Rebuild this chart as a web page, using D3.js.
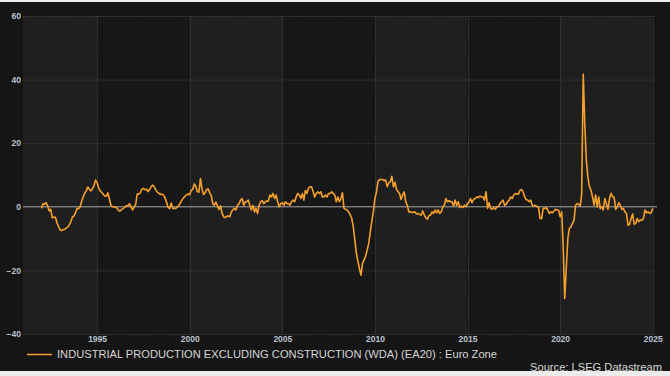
<!DOCTYPE html>
<html>
<head>
<meta charset="utf-8">
<script src="https://cdn.jsdelivr.net/npm/d3@7"></script>
<style>
	body{margin:0;background:#ececec;}
	svg{display:block;}
</style>
</head>
<body>
<script>
// monthly % yoy, Jan 1992 .. Jan 2025
const startYear=1992
const ipYoY=[
	-0.5,1.0,0.8,1.3,0.3,-1.3,-0.8,-3.5,-3.2,-3.3,-5.0,-6.2, //1992
	-7.2,-7.5,-7.2,-7.1,-6.7,-6.4,-5.7,-4.7,-3.2,-2.9,-1.9,-0.5, //1993
	-0.6,0.0,1.7,3.1,4.2,5.0,6.2,5.5,5.0,5.7,6.6,8.4, //1994
	7.6,6.0,5.0,4.5,4.0,3.4,3.3,4.4,2.4,0.5,0.0,0.0, //1995
	-0.2,-0.4,-1.2,-1.3,-0.8,-0.5,-0.2,0.4,0.2,1.0,0.0,-1.0, //1996
	0.0,0.8,4.0,4.0,4.3,5.5,5.8,5.4,5.5,4.8,5.4,6.3, //1997
	6.8,6.3,5.4,4.6,4.3,3.9,4.0,3.7,2.8,1.5,-0.2,-0.6, //1998
	1.2,-0.5,-0.5,-0.5,-0.1,0.4,1.2,2.1,2.8,3.3,3.8,4.0, //1999
	3.8,5.2,5.5,7.2,6.4,4.8,4.6,8.9,5.5,3.9,4.4,5.5, //2000
	5.6,4.3,3.6,1.0,0.5,1.5,0.3,-0.8,0.3,-2.0,-3.2,-3.4, //2001
	-3.0,-2.9,-3.1,-1.6,-1.0,-0.5,-1.0,0.5,1.0,2.1,2.6,0.5, //2002
	1.6,1.6,2.1,0.5,-1.0,0.5,-1.6,-0.5,-2.1,0.5,1.6,1.9, //2003
	1.0,1.6,1.8,1.8,3.7,3.1,4.2,2.6,3.7,1.6,0.0,1.0, //2004
	1.3,0.5,1.6,1.0,1.0,0.5,1.6,2.1,1.6,3.1,4.2,3.7, //2005
	2.6,4.2,2.1,5.2,4.2,5.8,6.3,6.3,4.7,3.1,4.2,4.7, //2006
	4.2,4.7,3.1,3.1,3.7,3.1,4.2,4.2,4.7,4.2,3.7,1.6, //2007
	3.1,1.6,2.6,4.4,-0.5,-0.8,-1.0,-1.6,-2.5,-3.7,-6.3,-10.5, //2008
	-14.7,-17.3,-19.4,-21.5,-17.8,-16.8,-15.5,-13.6,-11.5,-8.0,-4.5,-1.5, //2009
	2.6,4.7,7.9,8.6,8.6,8.6,8.2,8.4,6.3,7.5,7.9,9.6, //2010
	6.3,7.7,5.5,4.8,4.2,2.3,3.7,4.7,1.6,0.5,-1.6,-1.6, //2011
	-1.8,-1.7,-1.6,-2.3,-2.1,-2.4,-2.6,-1.3,-2.6,-3.5,-3.9,-2.8, //2012
	-2.6,-1.6,-2.1,-1.0,-1.9,-1.0,-2.1,-1.6,0.0,0.5,2.6,1.6, //2013
	1.9,1.6,1.6,0.2,2.1,0.5,1.6,-0.2,0.2,-0.2,0.5,0.0, //2014
	1.0,1.6,2.6,1.3,2.3,2.6,3.1,2.9,3.4,3.1,3.1,2.1, //2015
	4.7,-0.5,1.3,-0.5,-0.8,-0.2,-0.8,0.0,0.0,1.0,1.6,2.1, //2016
	0.5,0.8,1.6,2.1,3.1,2.6,3.7,4.2,4.0,4.0,5.2,5.5, //2017
	4.7,3.1,2.3,2.1,1.6,2.1,0.5,0.2,0.5,0.0,0.0,-3.7, //2018
	-3.7,-0.5,-0.5,-0.3,-1.0,-2.1,-1.6,-1.9,-1.3,-0.8,-1.0,-1.0, //2019
	-3.1,-1.6,-12.5,-28.8,-19.5,-10.0,-6.8,-6.3,-5.2,-4.2,0.5,1.0, //2020
	0.8,0.3,4.0,41.7,26.0,14.7,9.4,6.3,5.2,3.0,0.5,3.7, //2021
	0.0,3.1,-0.5,0.0,-1.0,2.6,1.0,-0.8,2.6,4.2,3.1,3.1, //2022
	-0.8,0.0,1.3,0.5,-0.8,-0.5,-1.6,-2.1,-5.8,-5.5,-3.7,-2.3, //2023
	-5.5,-5.2,-3.7,-4.7,-4.2,-4.2,-3.7,-1.0,-1.9,-1.6,-2.1,-1.9, //2024
	-0.5 //2025
]
const yTicks=[-40,-20,0,20,40,60]
const xTickYears=[1995,2000,2005,2010,2015,2020,2025]
const bandYears=[1991,1995,2000,2005,2010,2015,2020,2025]
const seriesName="INDUSTRIAL PRODUCTION EXCLUDING CONSTRUCTION (WDA) (EA20) : Euro Zone"
const sourceText="Source: LSEG Datastream"

const W=670,H=376
const plot={left:23,right:655,top:16,bottom:334}
const lineColor="#f5a02a"
const font="Liberation Sans, Arial, sans-serif"

const data=ipYoY.map((v,i)=>({date:new Date(startYear,i,1),value:v}))

const x=d3.scaleTime()
	.domain([new Date(1991,0,1),new Date(2025,1,14)])
	.range([plot.left,plot.right])
const y=d3.scaleLinear()
	.domain([-40,60])
	.range([plot.bottom,plot.top])

const svg=d3.select("body").append("svg")
	.attr("width",W)
	.attr("height",H)

svg.append("rect")
	.attr("x",0).attr("y",2)
	.attr("width",W).attr("height",369)
	.attr("fill","#151515")

// alternating 5 year bands
const bands=[]
for(let i=0;i+1<bandYears.length;++i){
	bands.push({from:bandYears[i],to:bandYears[i+1],light:i%2==0})
}
svg.append("g").selectAll("rect").data(bands).enter().append("rect")
	.attr("x",d=>x(new Date(d.from,0,1)))
	.attr("width",d=>x(new Date(d.to,0,1))-x(new Date(d.from,0,1)))
	.attr("y",plot.top)
	.attr("height",plot.bottom-plot.top)
	.attr("fill",d=>(d.light?"#1f1f1f":"#171717"))

// grid
const grid=svg.append("g")
grid.selectAll("line.h").data(yTicks.filter(v=>v!=0)).enter().append("line")
	.attr("x1",plot.left).attr("x2",plot.right)
	.attr("y1",d=>y(d)+0.5).attr("y2",d=>y(d)+0.5)
	.attr("stroke","#3c3c3c")
	.attr("stroke-dasharray","1.5,1")
grid.selectAll("line.v").data(xTickYears).enter().append("line")
	.attr("x1",d=>Math.round(x(new Date(d,0,1)))+0.5)
	.attr("x2",d=>Math.round(x(new Date(d,0,1)))+0.5)
	.attr("y1",plot.top).attr("y2",plot.bottom)
	.attr("stroke","#3c3c3c")
	.attr("stroke-dasharray","1.5,1")

// axes
const yAxis=svg.append("g")
	.attr("transform","translate("+(plot.left-2)+",0)")
	.call(d3.axisLeft(y).tickValues(yTicks).tickSize(0).tickPadding(0))
const xAxis=svg.append("g")
	.attr("transform","translate(0,"+plot.bottom+")")
	.call(d3.axisBottom(x).tickValues(xTickYears.map(v=>new Date(v,0,1))).tickFormat(d3.timeFormat("%Y")).tickSize(0).tickPadding(2))
for(const a of [yAxis,xAxis]){
	a.select(".domain").remove()
	a.selectAll("text")
		.attr("fill","#b9c3cf")
		.attr("font-family",font)
		.attr("font-size","8.5px")
		.attr("font-weight","bold")
}

// zero line
svg.append("line")
	.attr("x1",plot.left).attr("x2",plot.right+2)
	.attr("y1",y(0)).attr("y2",y(0))
	.attr("stroke","#a8a8a8")
	.attr("stroke-width",1)

const line=d3.line()
	.x(d=>x(d.date))
	.y(d=>y(d.value))
svg.append("path")
	.datum(data)
	.attr("d",line)
	.attr("fill","none")
	.attr("stroke",lineColor)
	.attr("stroke-width",1.6)
	.attr("stroke-linejoin","round")

// legend
svg.append("line")
	.attr("x1",27).attr("x2",52)
	.attr("y1",354.5).attr("y2",354.5)
	.attr("stroke",lineColor)
	.attr("stroke-width",1.5)
svg.append("text")
	.attr("x",57).attr("y",358.3)
	.attr("fill","#d6d6d6")
	.attr("font-family",font)
	.attr("font-size","10.3px")
	.attr("textLength",440)
	.attr("lengthAdjust","spacingAndGlyphs")
	.text(seriesName)
svg.append("text")
	.attr("x",662).attr("y",370.5)
	.attr("text-anchor","end")
	.attr("fill","#d6d6d6")
	.attr("font-family",font)
	.attr("font-size","10.5px")
	.attr("textLength",132)
	.attr("lengthAdjust","spacingAndGlyphs")
	.text(sourceText)
</script>
</body>
</html>
